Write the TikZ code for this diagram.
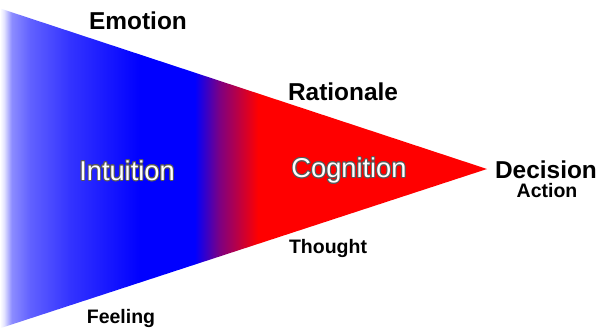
\documentclass[tikz,border=0pt]{standalone}
\usepackage{fontspec}
\setmainfont{Liberation Sans}
\usepackage[copies]{contour}
\contourlength{0.5pt}
\usepackage{tikz}
\usetikzlibrary{positioning}

\pgfdeclarehorizontalshading{wedge}{100bp}{color(0bp)=(white); color(25bp)=(white);
  color(25.4bp)=(blue!10); color(26.2bp)=(blue!45); color(28.1bp)=(blue!62);
  color(32.2bp)=(blue!80); color(39.4bp)=(blue); color(45bp)=(blue);
  color(47.6bp)=(blue!50!red); color(51.5bp)=(red); color(75bp)=(red); color(100bp)=(red)}

\begin{document}
\begin{tikzpicture}[x=0.02cm, y=-0.02cm,
    big/.style={font=\fontsize{13.9}{16}\selectfont\bfseries, inner sep=0pt},
    small/.style={font=\fontsize{11.1}{13}\selectfont\bfseries, inner sep=0pt},
    inside/.style={font=\fontsize{15.5}{18}\selectfont, text=white, inner sep=0pt}
]
\useasboundingbox (0,0) rectangle (601,328);
\shade[shading=wedge] (0,8.4) -- (487,169) -- (0,328.3) -- cycle;

\node[big] (emo) at (138,21) {Emotion};
\node[big] (rat) at (343,92) {Rationale};
\node[big] (dec) at (546,170) {Decision};
\node[small] (act) at (547,191) {Action};
\node[small] (tho) at (328,248) {Thought};
\node[small] (fee) at (121,318) {Feeling};
\node[inside] (int) at (127,171) {\contour{black!65}{Intuition}};
\node[inside] (cog) at (349,171) {\contour{black!65}{Cognition}};
\end{tikzpicture}
\end{document}
